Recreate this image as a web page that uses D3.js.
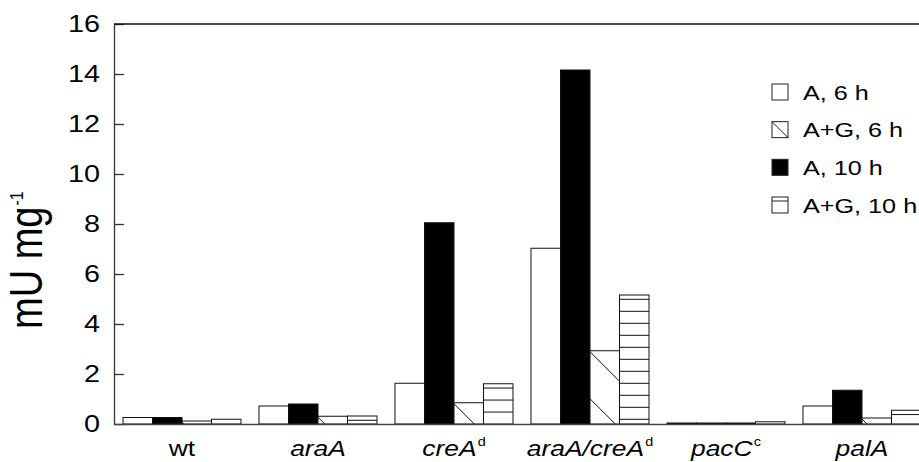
<!DOCTYPE html>
<html>
<head>
<meta charset="utf-8">
<script src="https://cdn.jsdelivr.net/npm/d3@7"></script>
<style>
  body { margin: 0; background: #fff; }
  svg { display: block; font-family: "Liberation Sans", Arial, sans-serif; }
</style>
</head>
<body>
<script>
// data
let categories = ['wt', 'araA', 'creA', 'araA/creA', 'pacC', 'palA'];
// label parts: [text, italic, superscript]
let catLabels = [
  [['wt', false]],
  [['araA', true]],
  [['creA', true], ['d', false, true]],
  [['araA/creA', true], ['d', false, true]],
  [['pacC', true], ['c', false, true]],
  [['palA', true]]
];
let seriesNames = ['A, 6 h', 'A+G, 6 h', 'A, 10 h', 'A+G, 10 h'];
let barOrder = ['A, 6 h', 'A, 10 h', 'A+G, 6 h', 'A+G, 10 h'];
let a6 = [0.26, 0.72, 1.63, 7.03, 0.04, 0.72];
let ag6 = [0.12, 0.31, 0.85, 2.93, 0.04, 0.24];
let a10 = [0.26, 0.8, 8.05, 14.16, 0.04, 1.35];
let ag10 = [0.19, 0.32, 1.61, 5.16, 0.09, 0.55];
let yTicks = [0, 2, 4, 6, 8, 10, 12, 14, 16];

let values = { 'A, 6 h': a6, 'A+G, 6 h': ag6, 'A, 10 h': a10, 'A+G, 10 h': ag10 };

let width = 919, height = 462;
let margin = { top: 24, bottom: 38, left: 114, right: 0 };
let sx = 1.2; // the original lettering is a little wide

let svg = d3.select('body')
  .append('svg')
  .attr('width', width)
  .attr('height', height)
  .style('background', '#fff');

let yScale = d3.scaleLinear()
  .domain([0, 16])
  .range([height - margin.bottom, margin.top]);

let pad = 18 / 136;
let xScale = d3.scaleBand()
  .domain(categories)
  .range([margin.left, margin.left + 6 * 136])
  .paddingInner(pad)
  .paddingOuter(pad / 2);

let xInner = d3.scaleBand()
  .domain(barOrder)
  .range([0, xScale.bandwidth()]);

let y0 = yScale(0);

// bars
let groups = svg.append('g')
  .selectAll('g')
  .data(categories)
  .join('g')
  .attr('transform', d => `translate(${xScale(d)},0)`);

groups.each(function (cat, ci) {
  let g = d3.select(this);
  barOrder.forEach(s => {
    let v = values[s][ci];
    let x = xInner(s), w = xInner.bandwidth(), top = yScale(v), h = y0 - top;
    g.append('rect')
      .attr('x', x).attr('y', top)
      .attr('width', w).attr('height', h)
      .attr('fill', s === 'A, 10 h' ? '#000' : '#fff')
      .attr('stroke', '#111')
      .attr('stroke-width', 1);
    if (s === 'A+G, 10 h') {
      for (let yy = top + 4.3; yy < y0 - 0.5; yy += 12) {
        g.append('line')
          .attr('x1', x).attr('x2', x + w)
          .attr('y1', yy).attr('y2', yy)
          .attr('stroke', '#111').attr('stroke-width', 1);
      }
    }
    if (s === 'A+G, 6 h') {
      for (let yy = top + 1; yy < y0 - 0.5; yy += 47) {
        let len = Math.min(w, y0 - yy);
        g.append('line')
          .attr('x1', x).attr('y1', yy)
          .attr('x2', x + len).attr('y2', yy + len)
          .attr('stroke', '#111').attr('stroke-width', 1);
      }
    }
  });
});

// y axis
svg.append('g')
  .attr('transform', `translate(${margin.left},0)`)
  .call(d3.axisLeft(yScale).tickValues(yTicks).tickSizeInner(-10).tickSizeOuter(0).tickPadding(14))
  .call(g => g.selectAll('text')
    .style('font-size', '24px')
    .attr('fill', '#000')
    .attr('x', -14 / sx)
    .attr('transform', `scale(${sx},1)`))
  .call(g => g.selectAll('line, path').attr('stroke', '#333').attr('stroke-width', 1.3));

// x axis
let xAxis = svg.append('g')
  .attr('transform', `translate(0,${y0})`)
  .call(d3.axisBottom(xScale).tickSize(0).tickPadding(0))
  .call(g => g.select('.domain').attr('d', `M${margin.left},0.5H${width}`).attr('stroke', '#444').attr('stroke-width', 1.3));

xAxis.selectAll('.tick text')
  .attr('y', 32)
  .attr('dy', null)
  .attr('transform', `scale(${sx},1)`)
  .style('font-size', '22px')
  .attr('fill', '#000')
  .each(function (d, i) {
    let t = d3.select(this).text(null);
    catLabels[i].forEach(p => {
      let ts = t.append('tspan').text(p[0]);
      if (p[1]) ts.style('font-style', 'italic');
      if (p[2]) ts.style('font-size', '12px').attr('dy', '-10').attr('dx', '1');
    });
  });

// top frame line
svg.append('line')
  .attr('x1', margin.left).attr('x2', width)
  .attr('y1', margin.top).attr('y2', margin.top)
  .attr('stroke', '#111').attr('stroke-width', 1.5);

// y label
let yl = svg.append('text')
  .attr('transform', `translate(42,329) scale(${sx},1) rotate(-90)`)
  .style('text-anchor', 'start')
  .style('font-size', '38px');
yl.append('tspan').text('mU mg');
yl.append('tspan').text('-1').style('font-size', '16px').attr('dy', '-16').attr('dx', '1');

// legend
let legend = svg.append('g')
  .attr('transform', 'translate(772,0)');
let legY = d3.scalePoint().domain(seriesNames).range([92, 205]);
seriesNames.forEach(s => {
  let yy = legY(s) - 8;
  let lg = legend.append('g');
  lg.append('rect')
    .attr('x', 0).attr('y', yy).attr('width', 16).attr('height', 16)
    .attr('fill', s === 'A, 10 h' ? '#000' : '#fff')
    .attr('stroke', '#222').attr('stroke-width', 1);
  if (s === 'A+G, 6 h') {
    lg.append('line').attr('x1', 0).attr('y1', yy).attr('x2', 16).attr('y2', yy + 16)
      .attr('stroke', '#222');
  }
  if (s === 'A+G, 10 h') {
    lg.append('line').attr('x1', 0).attr('y1', yy + 4).attr('x2', 16).attr('y2', yy + 4)
      .attr('stroke', '#222');
  }
  lg.append('text')
    .attr('transform', `translate(31,${legY(s) + 7.5}) scale(${sx},1)`)
    .style('font-size', '21px')
    .text(s);
});
</script>
</body>
</html>
